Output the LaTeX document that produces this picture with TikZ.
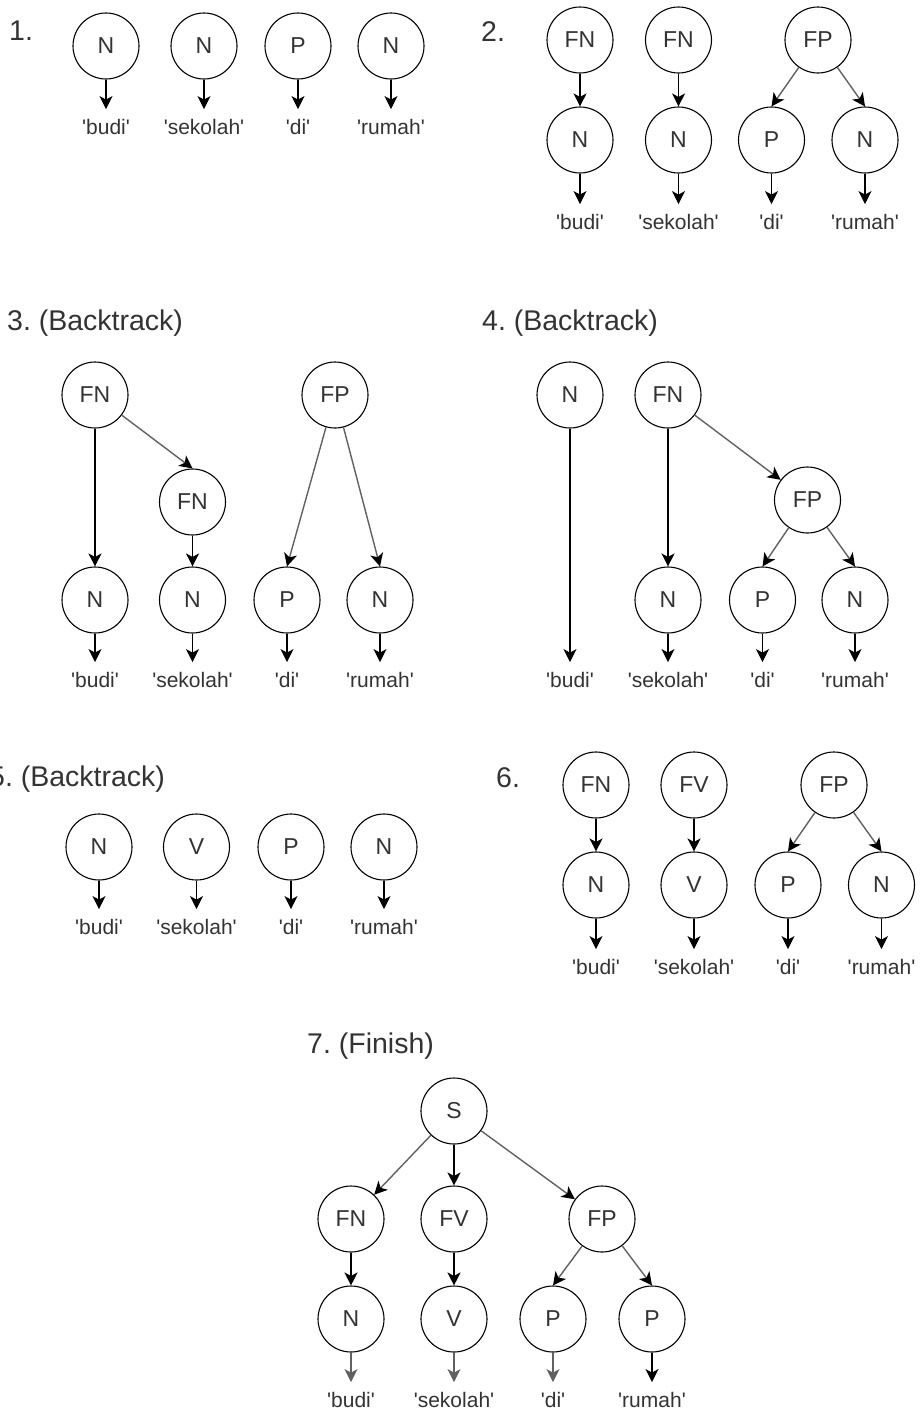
\documentclass[tikz,border=0pt]{standalone}
\usepackage{fontspec}
\setmainfont{Liberation Sans}[Ligatures=TeXOff]
\usetikzlibrary{arrows.meta}

\begin{document}
\frenchspacing
\begin{tikzpicture}[x=1pt,y=-1pt,
  cat/.style={circle, draw=black, line width=1.1pt, minimum size=66pt, inner sep=0pt,
              text=black!80, font=\fontsize{23}{27}\selectfont},
  word/.style={inner xsep=0pt, inner ysep=10pt, text=black!80, font=\fontsize{21}{25}\selectfont},
  title/.style={anchor=west, inner sep=0pt, text=black!80, font=\fontsize{28.5}{33}\selectfont},
  down/.style={draw=black, line width=1.1pt, -{Stealth[length=13pt,width=13pt,inset=3.5pt]}},
  slant/.style={down, draw=black!62, line width=1.4pt, -{Stealth[length=13pt,width=13pt,inset=3.5pt,black]}},
  bold/.style={down, line width=2pt}
]
\useasboundingbox (0,0) rectangle (920,1411);

% ---------- 1. ----------
\node[title] (t1) at (9,31) {1.};
\node[cat] (a1) at (106,46) {N};
\node[cat] (a2) at (204,46) {N};
\node[cat] (a3) at (298,46) {P};
\node[cat] (a4) at (391,46) {N};
\node[word] (aw1) at (106,127) {'budi'};
\node[word] (aw2) at (204,127) {'sekolah'};
\node[word] (aw3) at (298,127) {'di'};
\node[word] (aw4) at (391,127) {'rumah'};
\draw[down] (a1) -- (aw1);
\draw[down] (a2) -- (aw2);
\draw[down] (a3) -- (aw3);
\draw[down] (a4) -- (aw4);

% ---------- 2. ----------
\node[title] (t2) at (481,32) {2.};
\node[cat] (b1) at (580,40) {FN};
\node[cat] (b2) at (678.5,40) {FN};
\node[cat] (b3) at (818,40) {FP};
\node[cat] (b4) at (580,140) {N};
\node[cat] (b5) at (678.5,140) {N};
\node[cat] (b6) at (771.5,140) {P};
\node[cat] (b7) at (865,140) {N};
\node[word] (bw1) at (580,222) {'budi'};
\node[word] (bw2) at (678.5,222) {'sekolah'};
\node[word] (bw3) at (771.5,222) {'di'};
\node[word] (bw4) at (865,222) {'rumah'};
\draw[down] (b1) -- (b4);
\draw[down] (b2) -- (b5);
\draw[slant] (b3) -- (b6.north);
\draw[slant] (b3) -- (b7.north);
\draw[down] (b4) -- (bw1);
\draw[down] (b5) -- (bw2);
\draw[down] (b6) -- (bw3);
\draw[down] (b7) -- (bw4);

% ---------- 3. ----------
\node[title] (t3) at (7,323) {3. (Backtrack)};
\node[cat] (c1) at (95,395) {FN};
\node[cat] (c2) at (335,395) {FP};
\node[cat] (c3) at (192.5,502) {FN};
\node[cat] (c4) at (95,600) {N};
\node[cat] (c5) at (192.5,600) {N};
\node[cat] (c6) at (287,600) {P};
\node[cat] (c7) at (380,600) {N};
\node[word] (cw1) at (95,680) {'budi'};
\node[word] (cw2) at (192.5,680) {'sekolah'};
\node[word] (cw3) at (287,680) {'di'};
\node[word] (cw4) at (380,680) {'rumah'};
\draw[down] (c1) -- (c4);
\draw[slant] (c1) -- (c3.north);
\draw[down] (c3) -- (c5);
\draw[slant] (c2) -- (c6.north);
\draw[slant] (c2) -- (c7.north);
\draw[down] (c4) -- (cw1);
\draw[down] (c5) -- (cw2);
\draw[down] (c6) -- (cw3);
\draw[down] (c7) -- (cw4);

% ---------- 4. ----------
\node[title] (t4) at (482,323) {4. (Backtrack)};
\node[cat] (d1) at (570,395) {N};
\node[cat] (d2) at (668,395) {FN};
\node[cat] (d3) at (807.5,500) {FP};
\node[cat] (d4) at (668,600) {N};
\node[cat] (d5) at (762.5,600) {P};
\node[cat] (d6) at (855,600) {N};
\node[word] (dw1) at (570,680) {'budi'};
\node[word] (dw2) at (668,680) {'sekolah'};
\node[word] (dw3) at (762.5,680) {'di'};
\node[word] (dw4) at (855,680) {'rumah'};
\draw[down] (d1) -- (dw1);
\draw[down] (d2) -- (d4);
\draw[slant] (d2) -- (d3);
\draw[slant] (d3) -- (d5.north);
\draw[slant] (d3) -- (d6.north);
\draw[down] (d4) -- (dw2);
\draw[down] (d5) -- (dw3);
\draw[down] (d6) -- (dw4);

% ---------- 5. ----------
\node[title] (t5) at (-11,779) {5. (Backtrack)};
\node[cat] (e1) at (99,847) {N};
\node[cat] (e2) at (196.5,847) {V};
\node[cat] (e3) at (291,847) {P};
\node[cat] (e4) at (384,847) {N};
\node[word] (ew1) at (99,927) {'budi'};
\node[word] (ew2) at (196.5,927) {'sekolah'};
\node[word] (ew3) at (291,927) {'di'};
\node[word] (ew4) at (384,927) {'rumah'};
\draw[down] (e1) -- (ew1);
\draw[down] (e2) -- (ew2);
\draw[down] (e3) -- (ew3);
\draw[down] (e4) -- (ew4);

% ---------- 6. ----------
\node[title] (t6) at (496,778) {6.};
\node[cat] (f1) at (596,785) {FN};
\node[cat] (f2) at (694,785) {FV};
\node[cat] (f3) at (834,785) {FP};
\node[cat] (f4) at (596,885) {N};
\node[cat] (f5) at (694,885) {V};
\node[cat] (f6) at (788,885) {P};
\node[cat] (f7) at (881.5,885) {N};
\node[word] (fw1) at (596,967) {'budi'};
\node[word] (fw2) at (694,967) {'sekolah'};
\node[word] (fw3) at (788,967) {'di'};
\node[word] (fw4) at (881.5,967) {'rumah'};
\draw[down] (f1) -- (f4);
\draw[down] (f2) -- (f5);
\draw[slant] (f3) -- (f6.north);
\draw[slant] (f3) -- (f7.north);
\draw[down] (f4) -- (fw1);
\draw[down] (f5) -- (fw2);
\draw[down] (f6) -- (fw3);
\draw[down] (f7) -- (fw4);

% ---------- 7. ----------
\node[title] (t7) at (307,1046) {7. (Finish)};
\node[cat] (g0) at (454,1111) {S};
\node[cat] (g1) at (351,1219) {FN};
\node[cat] (g2) at (454,1219) {FV};
\node[cat] (g3) at (602,1219) {FP};
\node[cat] (g4) at (351,1319) {N};
\node[cat] (g5) at (454,1319) {V};
\node[cat] (g6) at (553,1319) {P};
\node[cat] (g7) at (652,1319) {P};
\node[word] (gw1) at (351,1400) {'budi'};
\node[word] (gw2) at (454,1400) {'sekolah'};
\node[word] (gw3) at (553,1400) {'di'};
\node[word] (gw4) at (652,1400) {'rumah'};
\draw[slant] (g0) -- (g1);
\draw[bold] (g0) -- (g2);
\draw[slant] (g0) -- (g3);
\draw[bold] (g1) -- (g4);
\draw[bold] (g2) -- (g5);
\draw[slant] (g3) -- (g6.north);
\draw[slant] (g3) -- (g7.north);
\draw[down, draw=black!62] (g4) -- (gw1);
\draw[down, draw=black!62] (g5) -- (gw2);
\draw[down, draw=black!62] (g6) -- (gw3);
\draw[bold] (g7) -- (gw4);
\end{tikzpicture}
\end{document}
